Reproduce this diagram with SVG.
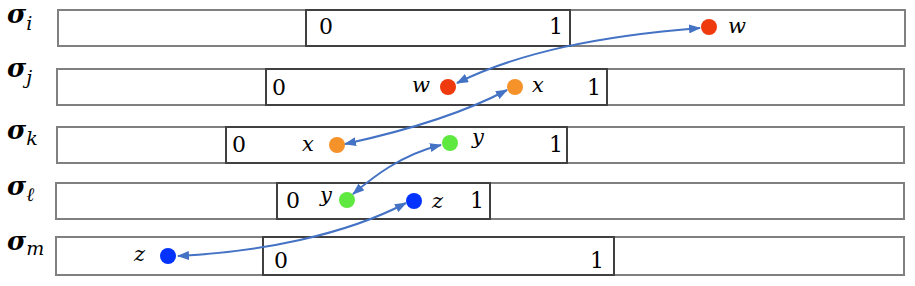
<svg xmlns="http://www.w3.org/2000/svg" width="915" height="286" viewBox="0 0 915 286">
<style>
.outer{fill:#fff;stroke:#808080;stroke-width:2}
.inner{fill:none;stroke:#404040;stroke-width:2}
.num{font-family:'DejaVu Serif',serif;font-size:22px;fill:#000}
.var{font-family:'DejaVu Serif',serif;font-size:21px;font-style:italic;fill:#000}
.sig{font-family:'DejaVu Serif',serif;font-size:26px;font-style:italic;font-weight:bold;fill:#000}
.sub{font-size:19px;font-weight:normal}
.conn{fill:none;stroke:#4472C4;stroke-width:2;marker-start:url(#ah);marker-end:url(#ah)}
.red{fill:#EF3A0E}.orange{fill:#F5922A}.green{fill:#5FE83F}.blue{fill:#0433FF}
</style>
<defs>
<marker id="ah" viewBox="0 0 12 9" refX="11" refY="4.5" markerWidth="12" markerHeight="9" markerUnits="userSpaceOnUse" orient="auto-start-reverse">
<path d="M0,0 L12,4.5 L0,9 z" fill="#4472C4"/>
</marker>
</defs>
<g id="row-i">
<rect class="outer" x="58" y="10" width="847" height="36"/>
<rect class="inner" x="306" y="10" width="264" height="36"/>
<text class="sig" x="7" y="23">σ<tspan class="sub" dy="7">i</tspan></text>
<text class="num" x="319" y="34">0</text>
<text class="num" x="563" y="34" text-anchor="end">1</text>
<circle class="red" cx="709" cy="27" r="8"/>
<text class="var" x="728" y="33">w</text>
</g>
<g id="row-j">
<rect class="outer" x="57" y="69" width="847" height="36"/>
<rect class="inner" x="266" y="69" width="341" height="36"/>
<text class="sig" x="7" y="77">σ<tspan class="sub" dy="7">j</tspan></text>
<text class="num" x="272" y="95">0</text>
<text class="num" x="601" y="95" text-anchor="end">1</text>
<circle class="red" cx="448" cy="87" r="8"/>
<text class="var" x="412" y="92">w</text>
<circle class="orange" cx="515" cy="87" r="8"/>
<text class="var" x="532" y="92">x</text>
</g>
<g id="row-k">
<rect class="outer" x="57" y="127" width="847" height="36"/>
<rect class="inner" x="226" y="127" width="341" height="36"/>
<text class="sig" x="7" y="139">σ<tspan class="sub" dy="6">k</tspan></text>
<text class="num" x="232" y="152">0</text>
<text class="num" x="563" y="152" text-anchor="end">1</text>
<circle class="orange" cx="337" cy="145" r="8"/>
<text class="var" x="302" y="151">x</text>
<circle class="green" cx="450" cy="143" r="8"/>
<text class="var" x="472" y="144">y</text>
</g>
<g id="row-l">
<rect class="outer" x="56" y="183" width="848" height="36"/>
<rect class="inner" x="277" y="183" width="213" height="36"/>
<text class="sig" x="7" y="195">σ<tspan class="sub" dy="6">ℓ</tspan></text>
<text class="num" x="286" y="208">0</text>
<text class="num" x="484" y="208" text-anchor="end">1</text>
<circle class="green" cx="347" cy="200" r="8"/>
<text class="var" x="320" y="202">y</text>
<circle class="blue" cx="414" cy="201" r="8"/>
<text class="var" x="432" y="208">z</text>
</g>
<g id="row-m">
<rect class="outer" x="56" y="237" width="848" height="38"/>
<rect class="inner" x="263" y="237" width="351" height="38"/>
<text class="sig" x="7" y="250">σ<tspan class="sub" dy="5">m</tspan></text>
<text class="num" x="274" y="268">0</text>
<text class="num" x="604" y="268" text-anchor="end">1</text>
<circle class="blue" cx="168" cy="256" r="8"/>
<text class="var" x="134" y="261">z</text>
</g>
<g id="connectors">
<path class="conn" d="M457,83 C520,52 600,36 700,28"/>
<path class="conn" d="M345,144 C400,132 460,115 507,90"/>
<path class="conn" d="M353,194 C372,178 400,155 441,145"/>
<path class="conn" d="M178,256 C260,252 345,235 406,203"/>
</g>
</svg>
